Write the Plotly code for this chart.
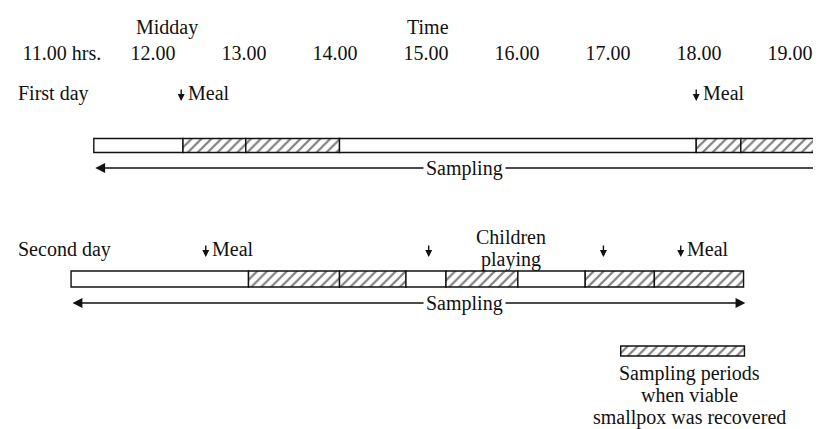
import plotly.graph_objects as go

# ---- data (hours of day) ----
tick_hours = [11, 12, 13, 14, 15, 16, 17, 18, 19]
tick_labels = ["11.00 hrs.", "12.00", "13.00", "14.00", "15.00", "16.00", "17.00", "18.00", "19.00"]

# sampling-period boundaries and whether viable smallpox was recovered
day1_bounds = [11.35, 12.33, 13.02, 14.05, 17.97, 18.46, 19.60]
day1_positive = [False, True, True, False, True, True]
day2_bounds = [11.10, 13.05, 14.05, 14.78, 15.22, 16.01, 16.75, 17.51, 18.49]
day2_positive = [False, True, True, False, True, False, True, True]

day1_sampling = [11.35, 19.42]
day2_sampling = [11.10, 18.51]

day1_event_hours = [12.31, 17.97]
day1_event_labels = ["Meal", "Meal"]
day2_event_hours = [12.58, 15.03, 16.95, 17.80]
day2_event_labels = ["Meal", "", "", "Meal"]
children_hour = 15.93
children_lines = ["Children", "playing"]

legend_period = [17.14, 18.50]
legend_lines = ["Sampling periods", "when viable", "smallpox was recovered"]

# ---- layout constants (pixel rows on reversed y axis) ----
FONT = "Liberation Serif"
FS = 20
X_RANGE = [10.407, 19.429]
TOP = 57
H = 429
W = 821

ROW1 = dict(label=85, bar=137.5, bar_h=14, arrow=160)
ROW2 = dict(label=241, bar=271, bar_h=16, arrow=295)
CHILD_Y = [229, 251]
LEG = dict(bar=343, bar_h=10, text=[365, 387, 409])

fig = go.Figure()


def add_bar(bounds, positive, y, h):
    starts = bounds[:-1]
    widths = [b - a for a, b in zip(bounds[:-1], bounds[1:])]
    fig.add_trace(go.Bar(
        orientation="h",
        base=starts,
        x=widths,
        y=[y] * len(starts),
        width=h,
        marker=dict(
            color="white",
            pattern=dict(shape=["/" if p else "" for p in positive],
                         fgcolor="#000", bgcolor="white", size=7, solidity=0.32),
            line=dict(color="#111", width=1.4),
        ),
        showlegend=False,
        hoverinfo="skip",
    ))


add_bar(day1_bounds, day1_positive, ROW1["bar"], ROW1["bar_h"])
add_bar(day2_bounds, day2_positive, ROW2["bar"], ROW2["bar_h"])
add_bar(legend_period, [True], LEG["bar"], LEG["bar_h"])

ann = []
FONTD = dict(family=FONT, size=FS, color="#111")


def txt(x, y, t, xanchor="center", yanchor="middle", **kw):
    ann.append(dict(x=x, y=y, xref="x", yref="y", text=t, showarrow=False,
                    xanchor=xanchor, yanchor=yanchor, font=FONTD, **kw))


def paper_y(py):
    return (H - py) / (H - TOP)


# headings (above the plotting area)
for x, t in [(12.15, "Midday"), (15.02, "Time")]:
    ann.append(dict(x=x, y=paper_y(19), xref="x", yref="paper", text=t,
                    showarrow=False, xanchor="center", yanchor="middle", font=FONTD))

# row labels
txt(10.49, ROW1["label"], "First day", xanchor="left")
txt(10.49, ROW2["label"], "Second day", xanchor="left")


def down_arrow(x, y, label):
    ann.append(dict(x=x, y=y + 8, xref="x", yref="y", ax=x, ay=y - 5,
                    axref="x", ayref="y", text="", showarrow=True,
                    arrowhead=2, arrowsize=1.0, arrowwidth=1.4, arrowcolor="#111"))
    if label:
        txt(x + 0.05, y, label, xanchor="left")


for h, lab in zip(day1_event_hours, day1_event_labels):
    down_arrow(h, ROW1["label"], lab)
for h, lab in zip(day2_event_hours, day2_event_labels):
    down_arrow(h, ROW2["label"], lab)

for y, t in zip(CHILD_Y, children_lines):
    txt(children_hour, y, t)


def sampling_arrow(span, y):
    ann.append(dict(x=span[1], y=y, ax=span[0], ay=y, xref="x", yref="y",
                    axref="x", ayref="y", text="", showarrow=True,
                    arrowhead=2, arrowside="end+start", arrowsize=1.4,
                    arrowwidth=1.4, arrowcolor="#111"))
    ann.append(dict(x=15.42, y=y, xref="x", yref="y", text="Sampling",
                    showarrow=False, bgcolor="white", borderpad=2,
                    font=FONTD))


sampling_arrow(day1_sampling, ROW1["arrow"])
sampling_arrow(day2_sampling, ROW2["arrow"])

for y, t in zip(LEG["text"], legend_lines):
    txt(17.9, y, t)

fig.update_layout(
    width=W, height=H,
    margin=dict(l=0, r=0, t=TOP, b=0),
    paper_bgcolor="white", plot_bgcolor="white",
    barmode="overlay",
    annotations=ann,
    xaxis=dict(range=X_RANGE, side="top", tickvals=tick_hours, ticktext=tick_labels,
               showgrid=False, zeroline=False, showline=False, ticks="",
               tickfont=FONTD, fixedrange=True),
    yaxis=dict(range=[H, TOP], visible=False, fixedrange=True),
    showlegend=False,
)

fig.write_html("out.html", config={"displayModeBar": False})
